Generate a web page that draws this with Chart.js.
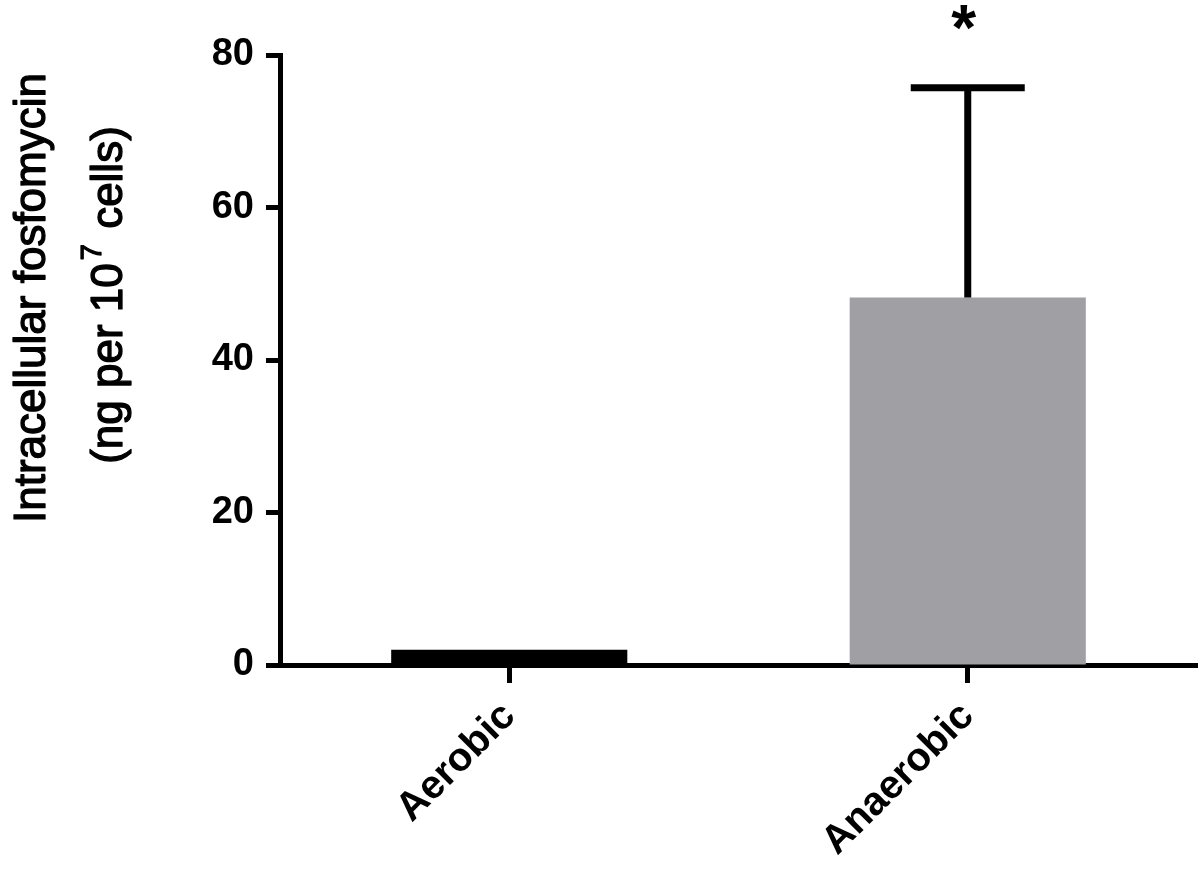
<!DOCTYPE html>
<html>
<head>
<meta charset="utf-8" />
<title>Intracellular fosfomycin</title>
<script src="https://cdn.jsdelivr.net/npm/chart.js@4.4.1/dist/chart.umd.min.js"></script>
<style>
	html, body { margin: 0; padding: 0; background: #fff; }
	#wrap { width: 1203px; height: 886px; position: relative; }
</style>
</head>
<body>
<div id="wrap"><canvas id="barChart"></canvas></div>
<script>
// data
const conditions = ['Aerobic', 'Anaerobic'];
const meanValues = [2.0, 48.2];
const sdValues = [0, 27.5];
const significance = ['', '*'];
const barColors = ['#000000', '#a09fa4'];
const yTicks = [0, 20, 40, 60, 80];
const yTitleLines = ['Intracellular fosfomycin', '(ng per 10', '7', ' cells)'];

const FONT = '"Liberation Sans", Arial, sans-serif';

// upper error bars + significance stars
const errorBars = {
	id: 'errorBars',
	afterDatasetsDraw(chart) {
		const ctx = chart.ctx;
		const yScale = chart.scales.y;
		const meta = chart.getDatasetMeta(0);
		ctx.save();
		meta.data.forEach(function(bar, i) {
			const topY = yScale.getPixelForValue(meanValues[i] + sdValues[i]);
			if (sdValues[i] > 0) {
				ctx.strokeStyle = '#000';
				ctx.lineWidth = 7;
				ctx.beginPath();
				ctx.moveTo(bar.x, bar.y);
				ctx.lineTo(bar.x, topY);
				ctx.moveTo(bar.x - 57, topY);
				ctx.lineTo(bar.x + 57, topY);
				ctx.stroke();
			}
			if (significance[i]) {
				ctx.fillStyle = '#000';
				ctx.font = 'bold 64px ' + FONT;
				ctx.textAlign = 'center';
				ctx.textBaseline = 'alphabetic';
				ctx.fillText(significance[i], bar.x - 4, topY - 38);
			}
		});
		ctx.restore();
	}
};

// y title drawn by hand so it can carry the superscript
function semiBold(ctx, txt, x, y) {
	ctx.fillText(txt, x, y);
	ctx.strokeText(txt, x, y);
}

const yTitle = {
	id: 'yTitle',
	afterDraw(chart) {
		const ctx = chart.ctx;
		ctx.save();
		ctx.translate(0, 298);
		ctx.rotate(-Math.PI / 2);
		ctx.fillStyle = '#000';
		ctx.strokeStyle = '#000';
		ctx.lineWidth = 1.3;
		ctx.lineJoin = 'round';
		ctx.textBaseline = 'alphabetic';
		ctx.textAlign = 'center';
		const big = '44px ' + FONT;
		const small = '29px ' + FONT;
		ctx.font = big;
		semiBold(ctx, yTitleLines[0], 0, 45);
		// second line: (ng per 10^7 cells)
		const w1 = ctx.measureText(yTitleLines[1]).width;
		const w3 = ctx.measureText(yTitleLines[3]).width;
		ctx.font = small;
		const w2 = ctx.measureText(yTitleLines[2]).width;
		let x = -(w1 + w2 + w3) / 2;
		ctx.textAlign = 'left';
		ctx.font = big;
		semiBold(ctx, yTitleLines[1], x, 122);
		x += w1 + 3;
		ctx.font = small;
		semiBold(ctx, yTitleLines[2], x, 101);
		x += w2 + 3;
		ctx.font = big;
		semiBold(ctx, yTitleLines[3], x, 122);
		ctx.restore();
	}
};

new Chart(document.getElementById('barChart').getContext('2d'), {
	type: 'bar',
	data: {
		labels: conditions,
		datasets: [{
			data: meanValues,
			backgroundColor: barColors,
			borderWidth: 0,
			barPercentage: 0.515,
			categoryPercentage: 1.0
		}]
	},
	options: {
		responsive: true,
		maintainAspectRatio: false,
		animation: false,
		devicePixelRatio: 1,
		layout: { padding: { top: 55, right: 6, left: 0, bottom: 0 } },
		plugins: {
			legend: { display: false },
			tooltip: { enabled: false }
		},
		scales: {
			x: {
				offset: true,
				grid: {
					offset: false,
					drawOnChartArea: false,
					tickLength: 18,
					tickWidth: 5,
					tickColor: '#000'
				},
				border: { display: true, color: '#000', width: 5 },
				ticks: {
					color: '#000',
					font: { family: FONT, size: 40, weight: 'bold' },
					maxRotation: 45,
					minRotation: 45,
					padding: 10
				},
				afterFit(scale) { scale.height = 221; }
			},
			y: {
				min: 0,
				max: 80,
				afterBuildTicks(scale) { scale.ticks = yTicks.map(v => ({ value: v })); },
				grid: {
					drawOnChartArea: false,
					tickLength: 14,
					tickWidth: 5,
					tickColor: '#000'
				},
				border: { display: true, color: '#000', width: 5 },
				ticks: {
					color: '#000',
					font: { family: FONT, size: 38, weight: 'bold' },
					padding: 12
				},
				afterFit(scale) { scale.width = 280; }
			}
		}
	},
	plugins: [errorBars, yTitle]
});
</script>
</body>
</html>
